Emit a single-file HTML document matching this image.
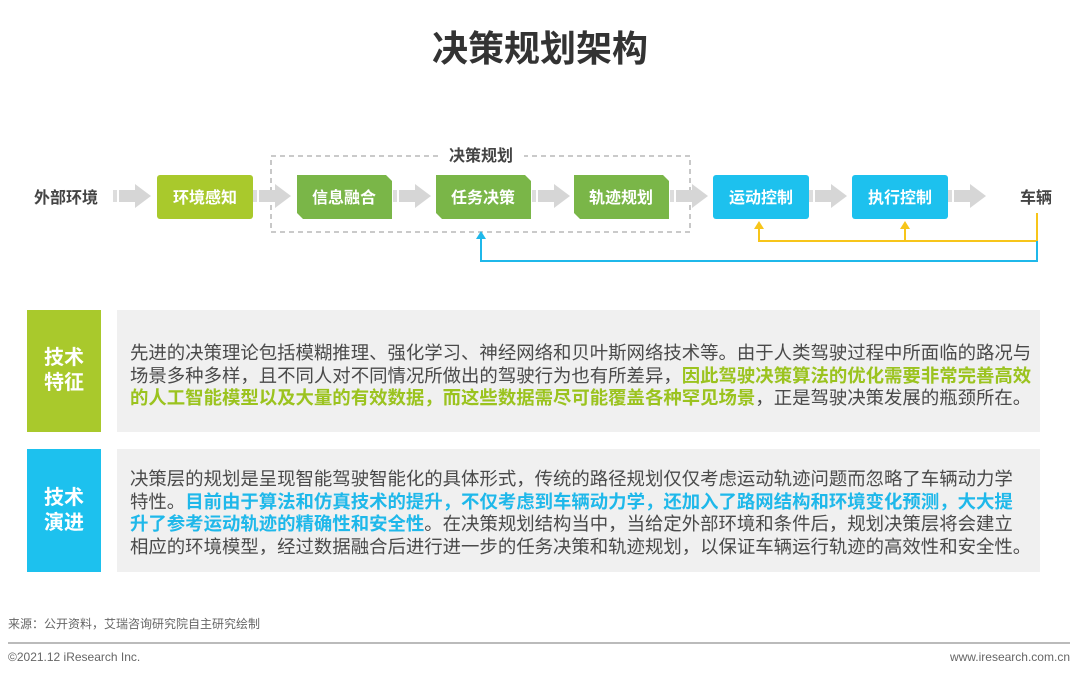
<!DOCTYPE html>
<html><head><meta charset="utf-8"><style>
body{margin:0;width:1080px;height:677px;background:#fff;position:relative;overflow:hidden;font-family:"Liberation Sans","Noto Sans CJK SC",sans-serif;}
.a{position:absolute;}
.t{white-space:nowrap;font-size:18.4px;color:#4a4a4a;line-height:22.5px;}
.g{color:#9bc31f;font-weight:bold;}
.b{color:#1fb8ea;font-weight:bold;}
.lab{color:#fff;font-weight:bold;font-size:20px;line-height:25px;text-align:center;display:flex;align-items:center;justify-content:center;}
</style></head><body>
<div class="a" style="left:0;top:20px;width:1080px;text-align:center;font-size:36px;font-weight:bold;color:#333;">决策规划架构</div>
<svg class="a" style="left:0;top:0" width="1080" height="300">
<defs><g id="ar"><rect x="0" y="-6" width="4" height="12" fill="#ddd"/><path d="M6,-6 H22 V-12 L38,0 L22,12 V6 H6 Z" fill="#d6d6d6"/></g></defs>
<rect x="271" y="156" width="419" height="76" fill="none" stroke="#aaa" stroke-width="1.3" stroke-dasharray="5,4"/>
<rect x="438" y="146" width="86" height="18" fill="#fff"/>
<text x="481" y="161" text-anchor="middle" font-size="16" font-weight="bold" fill="#444">决策规划</text>
<text x="66" y="203" text-anchor="middle" font-size="16" font-weight="bold" fill="#444">外部环境</text>
<text x="1036" y="203" text-anchor="middle" font-size="16" font-weight="bold" fill="#444">车辆</text>
<use href="#ar" x="113" y="196"/><use href="#ar" x="253" y="196"/><use href="#ar" x="393" y="196"/><use href="#ar" x="532" y="196"/><use href="#ar" x="670" y="196"/><use href="#ar" x="809" y="196"/><use href="#ar" x="948" y="196"/>
<rect x="157" y="175" width="96" height="44" rx="3" fill="#a9c92c"/>
<path d="M297,175 H386 L392,181 V219 H303 L297,213 Z" fill="#7ab648"/>
<path d="M436,175 H525 L531,181 V219 H442 L436,213 Z" fill="#7ab648"/>
<path d="M574,175 H663 L669,181 V219 H580 L574,213 Z" fill="#7ab648"/>
<rect x="713" y="175" width="96" height="44" rx="3" fill="#1dc1ee"/>
<rect x="852" y="175" width="96" height="44" rx="3" fill="#1dc1ee"/>
<g font-size="16" font-weight="bold" fill="#fff" text-anchor="middle">
<text x="205" y="203">环境感知</text><text x="344" y="203">信息融合</text><text x="483" y="203">任务决策</text><text x="621" y="203">轨迹规划</text><text x="761" y="203">运动控制</text><text x="900" y="203">执行控制</text></g>
<polyline points="1037,213 1037,241 759,241 759,228" fill="none" stroke="#f7c51a" stroke-width="2"/>
<line x1="905" y1="241" x2="905" y2="228" stroke="#f7c51a" stroke-width="2"/>
<path d="M754,229 L759,221 L764,229 Z M900,229 L905,221 L910,229 Z" fill="#f7c51a"/>
<polyline points="1037,241 1037,261 481,261 481,238" fill="none" stroke="#1fb8ea" stroke-width="2"/>
<path d="M476,239 L481,231 L486,239 Z" fill="#1fb8ea"/>
</svg>
<div class="a lab" style="left:27px;top:310px;width:74px;height:122px;background:#a9c92c;">技术<br>特征</div>
<div class="a" style="left:117px;top:310px;width:923px;height:122px;background:#f0f0f0;"></div>
<div class="a t" style="left:130px;top:342px;">先进的决策理论包括模糊推理、强化学习、神经网络和贝叶斯网络技术等。由于人类驾驶过程中所面临的路况与<br>场景多种多样，且不同人对不同情况所做出的驾驶行为也有所差异，<span class="g">因此驾驶决策算法的优化需要非常完善高效</span><br><span class="g">的人工智能模型以及大量的有效数据，而这些数据需尽可能覆盖各种罕见场景</span>，正是驾驶决策发展的瓶颈所在。</div>
<div class="a lab" style="left:27px;top:449px;width:74px;height:123px;background:#1dc1ee;">技术<br>演进</div>
<div class="a" style="left:117px;top:449px;width:923px;height:123px;background:#f0f0f0;"></div>
<div class="a t" style="left:130px;top:468px;">决策层的规划是呈现智能驾驶智能化的具体形式，传统的路径规划仅仅考虑运动轨迹问题而忽略了车辆动力学<br>特性。<span class="b">目前由于算法和仿真技术的提升，不仅考虑到车辆动力学，还加入了路网结构和环境变化预测，大大提</span><br><span class="b">升了参考运动轨迹的精确性和安全性</span>。在决策规划结构当中，当给定外部环境和条件后，规划决策层将会建立<br>相应的环境模型，经过数据融合后进行进一步的任务决策和轨迹规划，以保证车辆运行轨迹的高效性和安全性。</div>
<div class="a" style="left:8px;top:615px;font-size:12px;color:#666;">来源：公开资料，艾瑞咨询研究院自主研究绘制</div>
<div class="a" style="left:8px;top:642px;width:1062px;height:2px;background:#bbb;"></div>
<div class="a" style="left:8px;top:650px;font-size:12px;color:#666;">©2021.12 iResearch Inc.</div>
<div class="a" style="right:10px;top:650px;font-size:12px;color:#666;">www.iresearch.com.cn</div>
</body></html>
